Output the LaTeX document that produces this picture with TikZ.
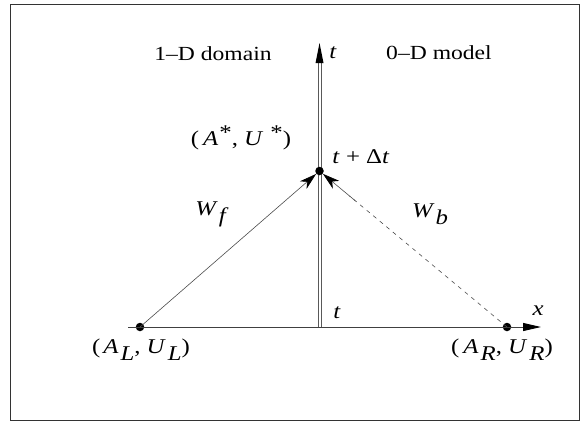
\documentclass[tikz,border=0pt]{standalone}
\usepackage{fontspec}
\setmainfont{Liberation Serif}[FakeStretch=1.18]
\usetikzlibrary{arrows.meta,calc}
\tikzset{
  lbl/.style={inner sep=0pt, font=\fontsize{20}{24}\selectfont},
  mlbl/.style={inner sep=0pt, font=\fontsize{21}{25}\selectfont},
  dotnode/.style={circle, fill=black, inner sep=0pt, minimum size=8.5pt},
  axisline/.style={draw=black!75, line width=0.9pt},
  taxis/.style={draw=black!65, line width=0.6pt},
  charline/.style={draw=black!70, line width=0.6pt},
  charhead/.style={-{Stealth[length=17pt,width=10pt,inset=5pt,color=black]}},
}
\newcommand{\iv}[1]{\textit{#1}}
\newcommand{\lowsub}[1]{\raisebox{-7pt}{\iv{#1}}}
\newcommand{\highstar}{\raisebox{6pt}{*}}
\begin{document}
\begin{tikzpicture}[x=1pt,y=-1pt]
\useasboundingbox (0,0) rectangle (584,424);
\draw[black!80, line width=1.2pt] (10.5,4.8) rectangle (579.3,420.5);
% points
\node[dotnode] (L) at (140,327) {};
\node[dotnode] (R) at (507,327) {};
\coordinate (S) at (319.5,171);
\coordinate (xl) at (128,327);
\coordinate (xr) at (541,327);
\coordinate (tbl) at (318,327);
\coordinate (tbr) at (321,327);
\coordinate (ttl) at (318,62);
\coordinate (ttr) at (321,62);
\coordinate (tt) at (319.5,43);
% axes
\draw[axisline] (xl) -- (R.center);
\draw[axisline, -{Triangle[length=18pt,width=8pt,color=black]}] (R.center) -- (xr);
\draw[taxis] (tbl) -- (ttl);
\draw[taxis] (tbr) -- (ttr);
\draw[draw=none, fill=black] (tt) -- (315.5,63) -- (323.5,63) -- cycle;
\node[dotnode] (Sd) at (S) {};
% characteristics
\draw[charline, charhead] (L.center) -- (Sd);
\draw[charline, dash pattern=on 4pt off 4.5pt] (R.center) -- ($(S)!0.16!(R.center)$);
\draw[charline, charhead] ($(S)!0.19!(R.center)$) -- (Sd);
% labels
\node[lbl] (dom) at (213,54) {1–D domain};
\node[mlbl] (tlab) at (333,53) {\iv{t}};
\node[lbl] (mod) at (439,53) {0–D model};
\node[mlbl] (star) at (241,138) {(\hspace{4pt}\iv{A}\hspace{1pt}\highstar, \iv{U}\hspace{7pt}\highstar)};
\node[mlbl] (tdt) at (361,157) {\iv{t} + Δ\iv{t}};
\node[mlbl] (wf) at (212,214) {\iv{W}\hspace{1pt}\lowsub{f}};
\node[mlbl] (wb) at (430,214) {\iv{W}\hspace{1pt}\lowsub{b}};
\node[mlbl] (t0) at (337,313) {\iv{t}};
\node[mlbl] (xlab) at (538,311) {\iv{x}};
\node[mlbl] (ql) at (141,350) {(\hspace{3pt}\iv{A}\hspace{2pt}\lowsub{L}, \iv{U}\hspace{2pt}\lowsub{L})};
\node[mlbl] (qr) at (502,350) {(\hspace{4pt}\iv{A}\hspace{2pt}\lowsub{R}, \iv{U}\hspace{2pt}\lowsub{R})};
\end{tikzpicture}
\end{document}
